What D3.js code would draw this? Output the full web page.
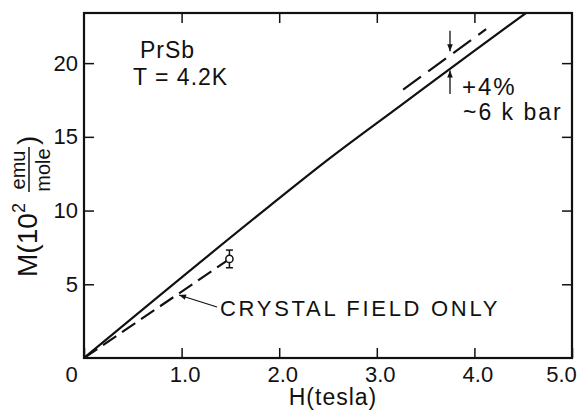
<!DOCTYPE html>
<html>
<head>
<meta charset="utf-8">
<script src="https://cdn.jsdelivr.net/npm/d3@7"></script>
<style>
  body { margin: 0; background: #fff; }
  svg text { font-family: "Liberation Sans", Arial, sans-serif; fill: #111; }
  .tick line { stroke: #111; stroke-width: 1.5px; }
  .frame { fill: none; stroke: #111; stroke-width: 2.2px; }
  .calc { fill: none; stroke: #111; stroke-width: 2.2px; }
  .dash { fill: none; stroke: #111; stroke-width: 2.2px; }
</style>
</head>
<body>
<svg id="chart"></svg>
<script>
// calculated M(H) curve, PrSb at 4.2 K
const hCalc = [0, 1.9, 2.5, 3.25, 3.95, 4.55];
const mCalc = [0, 10.3, 13.45, 17.15, 20.6, 23.5];
// crystal field only (dashed)
const hCf = [0, 1.47];
const mCf = [0, 6.62];
// measured point with error bar
const hMeas = [1.49];
const mMeas = [6.72];
const mErr = [0.6];
// +4% under pressure (dashed)
const hPress = [3.27, 4.12];
const mPress = [18.2, 22.3];
// pressure arrows: [H, from M, to M]
const arrowDown = [3.75, 22.2, 20.8];
const arrowUp = [3.75, 17.9, 19.5];

const xTicks = [0, 1, 2, 3, 4, 5];
const yTicks = [5, 10, 15, 20];

const width = 584, height = 412;
const margin = {top: 13, right: 12, bottom: 54, left: 84};
const w = width - margin.left - margin.right;
const h = height - margin.top - margin.bottom;

const svg = d3.select("#chart").attr("width", width).attr("height", height);

// arrowhead
svg.append("defs").append("marker")
  .attr("id", "head")
  .attr("viewBox", "0 0 10 10")
  .attr("refX", 10).attr("refY", 5)
  .attr("markerWidth", 9).attr("markerHeight", 7)
  .attr("markerUnits", "userSpaceOnUse")
  .attr("orient", "auto")
  .append("path").attr("d", "M0,1 L10,5 L0,9 Z").attr("fill", "#111");

svg.select("defs").append("clipPath").attr("id", "clip")
  .append("rect").attr("width", w).attr("height", h);

const g = svg.append("g").attr("transform", `translate(${margin.left},${margin.top})`);

const x = d3.scaleLinear().domain([0, 5]).range([0, w]);
const y = d3.scaleLinear().domain([0, 23.4]).range([h, 0]);

// axes, ticks pointing inward
const xAxis = g.append("g").attr("transform", `translate(0,${h})`)
  .call(d3.axisBottom(x).tickValues(xTicks).tickSizeInner(-10).tickSizeOuter(0).tickPadding(8)
    .tickFormat(d => d === 0 ? "0" : d3.format(".1f")(d)));
xAxis.select(".domain").remove();
xAxis.selectAll("text").attr("font-size", 22).attr("fill", "#111")
  .attr("dx", d => d === 0 ? -13 : d === 5 ? -11 : 3);

const yAxis = g.append("g")
  .call(d3.axisLeft(y).tickValues(yTicks).tickSizeInner(-10).tickSizeOuter(0).tickPadding(6));
yAxis.select(".domain").remove();
yAxis.selectAll("text").attr("font-size", 22).attr("fill", "#111");

const topAxis = g.append("g")
  .call(d3.axisTop(x).tickValues([1, 2, 3, 4]).tickSizeInner(-10).tickSizeOuter(0).tickFormat(""));
topAxis.select(".domain").remove();

const rightAxis = g.append("g").attr("transform", `translate(${w},0)`)
  .call(d3.axisRight(y).tickValues(yTicks).tickSizeInner(-10).tickSizeOuter(0).tickFormat(""));
rightAxis.select(".domain").remove();

g.append("rect").attr("class", "frame").attr("width", w).attr("height", h);

const plot = g.append("g").attr("clip-path", "url(#clip)");

const line = d3.line().x(d => x(d[0])).y(d => y(d[1])).curve(d3.curveMonotoneX);

plot.append("path").attr("class", "calc")
  .attr("d", line(d3.zip(hCalc, mCalc)));

plot.append("path").attr("class", "dash").attr("stroke-dasharray", "16,7")
  .attr("d", line(d3.zip(hCf, mCf)));

plot.append("path").attr("class", "dash").attr("stroke-dasharray", "22,9")
  .attr("d", line(d3.zip(hPress, mPress)));

// measured point
hMeas.forEach((hv, i) => {
  const cx = x(hv), top = y(mMeas[i] + mErr[i]), bot = y(mMeas[i] - mErr[i]);
  g.append("line").attr("x1", cx).attr("x2", cx).attr("y1", top).attr("y2", bot)
    .attr("stroke", "#111").attr("stroke-width", 1.5);
  [top, bot].forEach(yy => g.append("line").attr("x1", cx - 3.5).attr("x2", cx + 3.5)
    .attr("y1", yy).attr("y2", yy).attr("stroke", "#111").attr("stroke-width", 1.5));
  g.append("circle").attr("cx", cx).attr("cy", y(mMeas[i])).attr("r", 3.6)
    .attr("fill", "#fff").attr("stroke", "#111").attr("stroke-width", 1.5);
});

// pressure arrows
[arrowDown, arrowUp].forEach(a => {
  g.append("line").attr("x1", x(a[0])).attr("x2", x(a[0]))
    .attr("y1", y(a[1])).attr("y2", y(a[2]))
    .attr("stroke", "#111").attr("stroke-width", 1.3).attr("marker-end", "url(#head)");
});

// crystal field label arrow
g.append("line").attr("x1", 133).attr("y1", 294).attr("x2", 95).attr("y2", 282)
  .attr("stroke", "#111").attr("stroke-width", 1.3).attr("marker-end", "url(#head)");

// labels
svg.append("text").attr("x", 140).attr("y", 58).attr("font-size", 23).attr("letter-spacing", 1)
  .text("PrSb");
svg.append("text").attr("x", 133).attr("y", 85).attr("font-size", 23).attr("letter-spacing", 1)
  .text("T = 4.2K");
svg.append("text").attr("x", 462).attr("y", 95).attr("font-size", 24).attr("letter-spacing", 2)
  .text("+4%");
svg.append("text").attr("x", 463).attr("y", 120).attr("font-size", 23).attr("letter-spacing", 2)
  .text("~6 k bar");
svg.append("text").attr("x", 220).attr("y", 316).attr("font-size", 22).attr("letter-spacing", 2.7)
  .text("CRYSTAL FIELD ONLY");

svg.append("text").attr("x", 333).attr("y", 405).attr("font-size", 23).attr("letter-spacing", 1)
  .attr("text-anchor", "middle").text("H(tesla)");

// rotated y label: M(10^2 emu/mole)
const yl = svg.append("g").attr("transform", "translate(37,277) rotate(-90)");
yl.append("text").attr("x", 0).attr("y", 0).attr("font-size", 28).text("M(10");
yl.append("text").attr("x", 64).attr("y", -12).attr("font-size", 18).text("2");
yl.append("text").attr("x", 107).attr("y", -12).attr("font-size", 20)
  .attr("text-anchor", "middle").text("emu");
yl.append("line").attr("x1", 85).attr("x2", 130).attr("y1", -8).attr("y2", -8)
  .attr("stroke", "#111").attr("stroke-width", 1.5);
yl.append("text").attr("x", 107).attr("y", 13).attr("font-size", 20)
  .attr("text-anchor", "middle").text("mole");
yl.append("text").attr("x", 132).attr("y", 0).attr("font-size", 28).text(")");
</script>
</body>
</html>
